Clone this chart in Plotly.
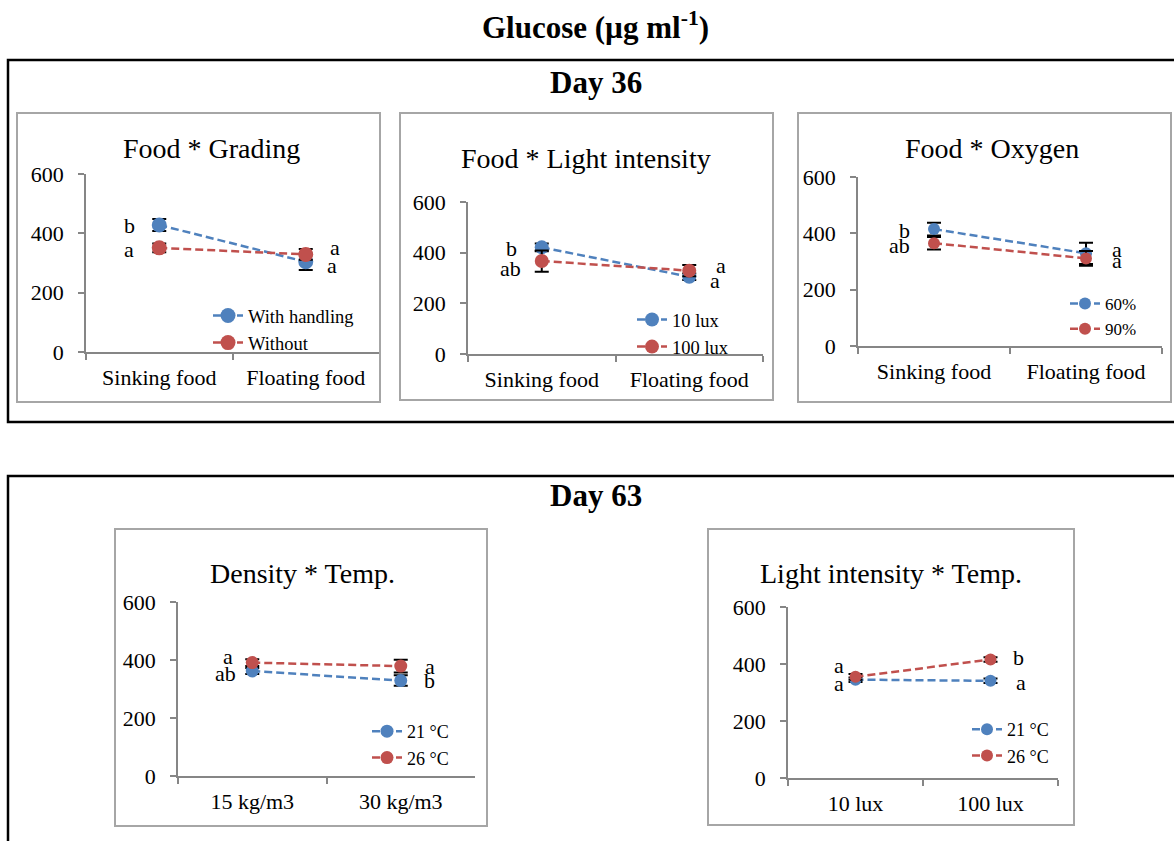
import plotly.graph_objects as go

W, H = 1174, 841
BLUE = "#4F81BD"
RED = "#C0504D"
FONT = "Liberation Serif"

# ---------------- data ----------------
p1_cats = ["Sinking food", "Floating food"]
p1_names = ["With handling", "Without"]
p1_s1 = [428, 304]
p1_s1_err = [20, 28]
p1_s2 = [351, 329]
p1_s2_err = [15, 18]
p1_s1_letters = ["b", "a"]
p1_s2_letters = ["a", "a"]

p2_cats = ["Sinking food", "Floating food"]
p2_names = ["10 lux", "100 lux"]
p2_s1 = [421, 305]
p2_s1_err = [15, 13]
p2_s2 = [367, 329]
p2_s2_err = [42, 22]
p2_s1_letters = ["b", "a"]
p2_s2_letters = ["ab", "a"]

p3_cats = ["Sinking food", "Floating food"]
p3_names = ["60%", "90%"]
p3_s1 = [415, 329]
p3_s1_err = [23, 38]
p3_s2 = [365, 311]
p3_s2_err = [22, 26]
p3_s1_letters = ["b", "a"]
p3_s2_letters = ["ab", "a"]

p4_cats = ["15 kg/m3", "30 kg/m3"]
p4_names = ["21 °C", "26 °C"]
p4_s1 = [362, 329]
p4_s1_err = [10, 18]
p4_s2 = [391, 379]
p4_s2_err = [12, 22]
p4_s1_letters = ["ab", "b"]
p4_s2_letters = ["a", "a"]

p5_cats = ["10 lux", "100 lux"]
p5_names = ["21 °C", "26 °C"]
p5_s1 = [345, 341]
p5_s1_err = [8, 8]
p5_s2 = [355, 416]
p5_s2_err = [10, 8]
p5_s1_letters = ["a", "a"]
p5_s2_letters = ["a", "b"]

panel_titles = ["Food * Grading", "Food * Light intensity", "Food * Oxygen",
                "Density * Temp.", "Light intensity * Temp."]
y_ticks = [0, 200, 400, 600]

# ---------------- layout helpers ----------------
def px(x):
    return x / W

def py(y):
    return 1 - y / H

panels = [
    dict(cats=p1_cats, names=p1_names, s=[p1_s1, p1_s2], e=[p1_s1_err, p1_s2_err],
         L=[p1_s1_letters, p1_s2_letters], title=panel_titles[0],
         ax=(86, 379), ay=(352, 174), box=(17, 113, 380, 402), tpos=(211, 148),
         lshift=[[(-30, 0), (26, -4)], [(-30, -2), (29, 7)]],
         leg=(208, 297), lfont=18.5, msize=15, tfont=28),
    dict(cats=p2_cats, names=p2_names, s=[p2_s1, p2_s2], e=[p2_s1_err, p2_s2_err],
         L=[p2_s1_letters, p2_s2_letters], title=panel_titles[1],
         ax=(468, 763), ay=(354, 202), box=(400, 113, 773, 400), tpos=(586, 158),
         lshift=[[(-30, -1), (26, -4)], [(-31, -7), (32, 5)]],
         leg=(632, 301), lfont=18.5, msize=14, tfont=28),
    dict(cats=p3_cats, names=p3_names, s=[p3_s1, p3_s2], e=[p3_s1_err, p3_s2_err],
         L=[p3_s1_letters, p3_s2_letters], title=panel_titles[2],
         ax=(858, 1162), ay=(346, 177), box=(798, 113, 1171, 402), tpos=(992, 148),
         lshift=[[(-30, -1), (31, 4)], [(-35, -2), (31, -2)]],
         leg=(1065, 286), lfont=17, msize=12, tfont=28),
    dict(cats=p4_cats, names=p4_names, s=[p4_s1, p4_s2], e=[p4_s1_err, p4_s2_err],
         L=[p4_s1_letters, p4_s2_letters], title=panel_titles[3],
         ax=(178, 475), ay=(776, 602), box=(115, 529, 487, 826), tpos=(302, 573),
         lshift=[[(-27, -2), (29, 0)], [(-24, 6), (29, 0)]],
         leg=(367, 713), lfont=18, msize=13, tfont=28),
    dict(cats=p5_cats, names=p5_names, s=[p5_s1, p5_s2], e=[p5_s1_err, p5_s2_err],
         L=[p5_s1_letters, p5_s2_letters], title=panel_titles[4],
         ax=(788, 1058), ay=(778, 607), box=(708, 529, 1074, 825), tpos=(891, 573),
         lshift=[[(-17, -4), (30, -2)], [(-17, 11), (28, 2)]],
         leg=(967, 711), lfont=18, msize=12, tfont=28),
]

fig = go.Figure()
shapes = []
annotations = []
layout_axes = {}
colors = [BLUE, RED]

for i, p in enumerate(panels):
    k = "" if i == 0 else str(i + 1)
    xa, ya = "x" + k, "y" + k
    leg = "legend" + k
    for j in range(2):
        fig.add_trace(go.Scatter(
            x=p["cats"], y=p["s"][j], name=p["names"][j],
            mode="lines+markers", xaxis=xa, yaxis=ya, legend=leg,
            line=dict(color=colors[j], width=2.5, dash="8px,4px"),
            marker=dict(color=colors[j], size=p["msize"]),
            error_y=dict(type="data", array=p["e"][j], color="black",
                         thickness=2, width=7),
            cliponaxis=False,
        ))
        for c in range(2):
            dx, dy = p["lshift"][j][c]
            annotations.append(dict(
                x=p["cats"][c], y=p["s"][j][c], xref=xa, yref=ya,
                text=p["L"][j][c], showarrow=False, xshift=dx, yshift=dy,
                xanchor="center", yanchor="middle",
                font=dict(family=FONT, size=22, color="black")))
    layout_axes["xaxis" + k] = dict(
        domain=[px(p["ax"][0]), px(p["ax"][1])], anchor=ya, type="category",
        range=[-0.5, 1.5], tickson="boundaries", ticks="outside", ticklen=6,
        tickcolor="#868686", tickwidth=1.5, showline=True, linecolor="#868686",
        linewidth=1.5, showgrid=False, zeroline=False, ticklabelstandoff=5,
        automargin=False,
        tickfont=dict(family=FONT, size=22, color="black"), fixedrange=True)
    layout_axes["yaxis" + k] = dict(
        domain=[py(p["ay"][0]), py(p["ay"][1])], anchor=xa, range=[0, 600],
        tickvals=y_ticks, ticks="outside", ticklen=6, tickcolor="#868686",
        tickwidth=1.5, showline=True, linecolor="#868686", linewidth=1.5,
        showgrid=False, zeroline=False, ticklabelstandoff=10, automargin=False,
        tickfont=dict(family=FONT, size=22, color="black"), fixedrange=True)
    layout_axes[leg] = dict(
        x=px(p["leg"][0]), y=py(p["leg"][1]), xanchor="left", yanchor="top",
        bgcolor="rgba(0,0,0,0)", borderwidth=0, tracegroupgap=0,
        font=dict(family=FONT, size=p["lfont"], color="black"))
    bx0, by0, bx1, by1 = p["box"]
    shapes.append(dict(type="rect", xref="paper", yref="paper",
                       x0=px(bx0), x1=px(bx1), y0=py(by1), y1=py(by0),
                       line=dict(color="#A6A6A6", width=2), layer="below"))
    annotations.append(dict(x=px(p["tpos"][0]), y=py(p["tpos"][1]), xref="paper",
                            yref="paper", text=p["title"], showarrow=False,
                            xanchor="center", yanchor="middle",
                            font=dict(family=FONT, size=p["tfont"], color="black")))

# outer boxes
shapes.append(dict(type="rect", xref="paper", yref="paper", x0=px(8), x1=px(1180),
                   y0=py(422), y1=py(60), line=dict(color="black", width=2.5)))
shapes.append(dict(type="rect", xref="paper", yref="paper", x0=px(8), x1=px(1180),
                   y0=py(860), y1=py(476), line=dict(color="black", width=2.5)))

annotations.append(dict(x=px(596), y=py(26), xref="paper", yref="paper",
                        text="<b>Glucose (µg ml<sup>-1</sup>)</b>", showarrow=False,
                        xanchor="center", yanchor="middle",
                        font=dict(family=FONT, size=31, color="black")))
annotations.append(dict(x=px(596), y=py(82), xref="paper", yref="paper",
                        text="<b>Day 36</b>", showarrow=False, xanchor="center",
                        yanchor="middle", font=dict(family=FONT, size=31, color="black")))
annotations.append(dict(x=px(596), y=py(495), xref="paper", yref="paper",
                        text="<b>Day 63</b>", showarrow=False, xanchor="center",
                        yanchor="middle", font=dict(family=FONT, size=31, color="black")))

fig.update_layout(
    width=W, height=H, margin=dict(l=0, r=0, t=0, b=0, autoexpand=False),
    paper_bgcolor="white", plot_bgcolor="rgba(0,0,0,0)",
    shapes=shapes, annotations=annotations, showlegend=True,
    **layout_axes)

fig.write_html("out.html", config={"displayModeBar": False})
